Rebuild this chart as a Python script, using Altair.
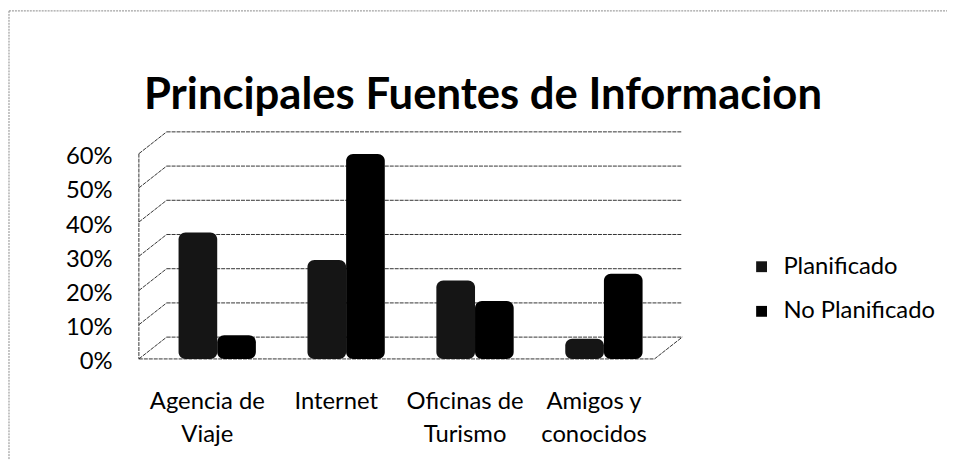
import altair as alt
import pandas as pd

# ---- data ----
categories = ["Agencia de Viaje", "Internet", "Oficinas de Turismo", "Amigos y conocidos"]
label_lines = [["Agencia de", "Viaje"], ["Internet"], ["Oficinas de", "Turismo"], ["Amigos y", "conocidos"]]
series = ["Planificado", "No Planificado"]
planificado = [0.32, 0.24, 0.18, 0.01]
no_planificado = [0.02, 0.55, 0.12, 0.20]
y_ticks = [0.0, 0.1, 0.2, 0.3, 0.4, 0.5, 0.6]
title_text = "Principales Fuentes de Informacion"

# ---- layout (pixels) ----
W, H = 520, 207
DX, DY = 28, -22          # depth offset of the back wall
FONT = "Lato"
FS = 24

rows = []
for c, p, n in zip(categories, planificado, no_planificado):
    rows.append({"cat": c, "serie": series[0], "valor": p})
    rows.append({"cat": c, "serie": series[1], "valor": n})
df = pd.DataFrame(rows)
ticks_df = pd.DataFrame({"t": y_ticks})
one = pd.DataFrame({"a": [0]})

label_expr = " : ".join(
    f"datum.value == '{c}' ? {lines!r}" for c, lines in zip(categories, label_lines)
) + " : datum.label"

yscale = alt.Scale(domain=[0, 0.6], nice=False, zero=True)
y_axis = alt.Axis(values=y_ticks, format=".0%", domain=False, ticks=False, grid=False,
                  labelFontSize=FS, labelFont=FONT, labelColor="black", labelPadding=27,
                  labelOffset=3, title=None)
line_style = dict(color="#333333", strokeWidth=1, strokeDash=[4, 1])

x_enc = alt.X(
    "cat:N", sort=categories, title=None,
    scale=alt.Scale(paddingInner=0, paddingOuter=0, range=[DX / 2, W + DX / 2]),
    axis=alt.Axis(labelExpr=label_expr, labelAngle=0, domain=False, ticks=False,
                  labelFontSize=FS, labelFont=FONT, labelColor="black",
                  labelPadding=31, labelLineHeight=33, labelLimit=300, labelOffset=-10),
)

bars = alt.Chart(df).mark_bar(
    yOffset=DY / 2 - 6, y2Offset=DY / 2 + 6, cornerRadius=7
).encode(
    x=x_enc,
    xOffset=alt.XOffset("serie:N", sort=series, scale=alt.Scale(paddingInner=0, paddingOuter=0.667)),
    y=alt.Y("valor:Q", stack=None, scale=yscale, axis=y_axis),
    color=alt.Color(
        "serie:N", sort=series,
        scale=alt.Scale(domain=series, range=["#151515", "#000000"]),
        legend=alt.Legend(title=None, orient="none", legendX=616, legendY=102,
                          symbolType="square", symbolSize=120, symbolStrokeWidth=0,
                          labelFontSize=FS, labelFont=FONT, labelColor="black",
                          rowPadding=21, labelOffset=10, labelLimit=300),
    ),
)

# back wall gridlines
back_grid = alt.Chart(ticks_df).mark_rule(
    xOffset=DX, x2Offset=DX, yOffset=DY, **line_style
).encode(
    y=alt.Y("t:Q", scale=yscale, axis=y_axis),
    x=alt.value(0), x2=alt.value(W),
)
# side wall diagonals
side_grid = alt.Chart(ticks_df).mark_rule(y2Offset=DY, **line_style).encode(
    y=alt.Y("t:Q", scale=yscale, axis=y_axis),
    y2=alt.Y2("t:Q"),
    x=alt.value(0), x2=alt.value(DX),
)
front_axis = alt.Chart(one).mark_rule(**line_style).encode(
    x=alt.value(0), y=alt.value(0), y2=alt.value(H))
floor_front = alt.Chart(one).mark_rule(**line_style).encode(
    x=alt.value(0), x2=alt.value(W), y=alt.value(H))
floor_right = alt.Chart(one).mark_rule(**line_style).encode(
    x=alt.value(W), x2=alt.value(W + DX), y=alt.value(H), y2=alt.value(H + DY))

# outer frame of the picture
frame_style = dict(color="#8a8a8a", strokeWidth=1, strokeDash=[2, 1])
frame_top = alt.Chart(one).mark_rule(**frame_style).encode(
    x=alt.value(-131), x2=alt.value(W + 295), y=alt.value(-144))
frame_left = alt.Chart(one).mark_rule(**frame_style).encode(
    x=alt.value(-131), y=alt.value(-144), y2=alt.value(H + 110))

chart = alt.layer(
    back_grid, side_grid, front_axis, floor_front, floor_right, bars, frame_top, frame_left
).properties(
    width=W, height=H,
    background="white",
    title=alt.TitleParams(title_text, font=FONT, fontSize=44, fontWeight="bold",
                          color="black", anchor="middle", frame="group", dx=87,
                          offset=0, dy=108),
    autosize=alt.AutoSizeParams(type="none"),
    padding={"left": 132, "top": 145, "right": 295, "bottom": 100},
).configure_view(stroke=None)

chart.save("out.html", embed_options={"renderer": "svg", "actions": False})
